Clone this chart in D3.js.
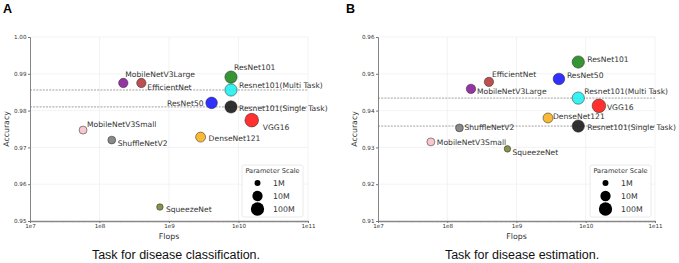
<!DOCTYPE html>
<html lang="en">
<head>
  <meta charset="UTF-8">
  <title>Flops vs Accuracy</title>
  <style>
    body { margin: 0; background: #fff; }
    svg { display: block; }
  </style>
  <script src="https://d3js.org/d3.v7.min.js"></script>
</head>
<body>
  <div id="chart"></div>
  <script>
    // data
    const models = ["MobileNetV3Large", "EfficientNet", "ResNet101", "Resnet101(Multi Task)", "ResNet50",
      "Resnet101(Single Task)", "VGG16", "MobileNetV3Small", "ShuffleNetV2", "DenseNet121", "SqueezeNet"];
    const flops = [2.2e8, 4.0e8, 7.8e9, 7.8e9, 4.1e9, 7.8e9, 1.55e10, 5.8e7, 1.5e8, 2.85e9, 7.4e8];
    const params = [5.5e6, 5.3e6, 44.5e6, 44.5e6, 25.6e6, 44.5e6, 138.4e6, 2.5e6, 2.3e6, 8.0e6, 1.25e6];
    const accClassification = [0.9875, 0.9875, 0.9891, 0.9856, 0.9821, 0.9810, 0.9774, 0.9747, 0.9720, 0.9728, 0.9538];
    const accEstimation = [0.9459, 0.9478, 0.9532, 0.9434, 0.9486, 0.9358, 0.9413, 0.9315, 0.9353, 0.9380, 0.9296];
    const xTicks = [1e7, 1e8, 1e9, 1e10, 1e11];
    const xTickLabels = ["1e7", "1e8", "1e9", "1e10", "1e11"];
    const legendValues = [1e6, 1e7, 1e8];
    const legendLabels = ["1M", "10M", "100M"];

    const colors = {
      "MobileNetV3Large": "#8b1e99",
      "EfficientNet": "#b53d3d",
      "ResNet101": "#1f8a1f",
      "Resnet101(Multi Task)": "#22f0f0",
      "ResNet50": "#1a1aff",
      "Resnet101(Single Task)": "#1a1a1a",
      "VGG16": "#ff1a1a",
      "MobileNetV3Small": "#f8c0cc",
      "ShuffleNetV2": "#7d7d7d",
      "DenseNet121": "#f8b020",
      "SqueezeNet": "#78873a"
    };

    // label placement [dx, dy, anchor]
    const offsetsA = {
      "MobileNetV3Large": [2, -9, "start"], "EfficientNet": [6, 4, "start"], "ResNet101": [3, -10, "start"],
      "Resnet101(Multi Task)": [8, -4, "start"], "ResNet50": [-8, 1, "end"], "Resnet101(Single Task)": [8, 2, "start"],
      "VGG16": [11, 7, "start"], "MobileNetV3Small": [4, -6, "start"], "ShuffleNetV2": [6, 3, "start"],
      "DenseNet121": [8, 1, "start"], "SqueezeNet": [6, 2, "start"]
    };
    const offsetsB = {
      "MobileNetV3Large": [6, 3, "start"], "EfficientNet": [3, -7, "start"], "ResNet101": [9, -3, "start"],
      "Resnet101(Multi Task)": [6, -7, "start"], "ResNet50": [8, -3, "start"], "Resnet101(Single Task)": [9, 1, "start"],
      "VGG16": [8, 2, "start"], "MobileNetV3Small": [6, 1, "start"], "ShuffleNetV2": [5, 0, "start"],
      "DenseNet121": [5, -1, "start"], "SqueezeNet": [5, 4, "start"]
    };

    const W = 679, H = 263;
    const svg = d3.select("#chart").append("svg")
      .attr("width", W).attr("height", H)
      .style("font-family", "DejaVu Sans, sans-serif");
    svg.append("rect").attr("width", W).attr("height", H).attr("fill", "#fff");

    // marker area grows with log10(params)
    const area = d3.scaleLog().domain([1e6, 1e8]).range([28, 138]);
    const radius = p => Math.sqrt(area(p) / Math.PI);

    function panel(opt) {
      const x = d3.scaleLog().domain([1e7, 1e11]).range([opt.left, opt.right]);
      const y = d3.scaleLinear().domain(opt.yDomain).range([opt.bottom, opt.top]);
      const yTicks = d3.range(0, 6).map(i => opt.yDomain[0] + i * 0.01);
      const g = svg.append("g");

      // grid
      g.selectAll(".gx").data(xTicks.slice(1)).join("line")
        .attr("x1", d => x(d)).attr("x2", d => x(d))
        .attr("y1", opt.top).attr("y2", opt.bottom)
        .attr("stroke", "#f0f0f0").attr("stroke-width", 0.8);
      g.selectAll(".gy").data(yTicks.slice(1)).join("line")
        .attr("x1", opt.left).attr("x2", opt.right)
        .attr("y1", d => y(d)).attr("y2", d => y(d))
        .attr("stroke", "#f0f0f0").attr("stroke-width", 0.8);

      // axes
      const ya = g.append("g").attr("transform", `translate(${opt.left},0)`)
        .call(d3.axisLeft(y).tickValues(yTicks).tickFormat(d3.format(".2f")).tickSize(2).tickPadding(1.5));
      ya.select(".domain").attr("stroke", "#777").attr("stroke-width", 0.9);
      ya.selectAll(".tick line").attr("stroke", "#777");
      ya.selectAll("text").attr("font-size", 5.6).attr("fill", "#333").attr("font-family", "DejaVu Sans");

      const minor = [];
      for (let e = 7; e < 11; e++) for (let m = 2; m < 10; m++) minor.push(m * Math.pow(10, e));
      g.append("g").attr("transform", `translate(0,${opt.bottom})`)
        .call(d3.axisBottom(x).tickValues(minor).tickFormat("").tickSize(1.2))
        .call(a => a.select(".domain").remove())
        .selectAll("line").attr("stroke", "#999");
      const xa = g.append("g").attr("transform", `translate(0,${opt.bottom})`)
        .call(d3.axisBottom(x).tickValues(xTicks).tickFormat((d, i) => xTickLabels[i]).tickSize(2).tickPadding(1.5).tickSizeOuter(0));
      xa.select(".domain").attr("stroke", "#888").attr("stroke-width", 1.3);
      xa.selectAll(".tick line").attr("stroke", "#777");
      xa.selectAll("text").attr("font-size", 5.6).attr("fill", "#333").attr("font-family", "DejaVu Sans");

      g.append("text").attr("x", (opt.left + opt.right) / 2).attr("y", opt.bottom + 18)
        .attr("text-anchor", "middle").attr("font-size", 7.8).attr("fill", "#333").text("Flops");
      g.append("text").attr("transform", `translate(${opt.left - 21},${(opt.top + opt.bottom) / 2}) rotate(-90)`)
        .attr("text-anchor", "middle").attr("font-size", 7.8).attr("fill", "#333").text("Accuracy");

      // reference lines for multi / single task
      [opt.acc[3], opt.acc[5]].forEach(v => {
        g.append("line").attr("x1", opt.left).attr("x2", opt.right)
          .attr("y1", y(v)).attr("y2", y(v))
          .attr("stroke", "#777").attr("stroke-width", 0.7).attr("stroke-dasharray", "2,1.2");
      });

      const pts = models.map((m, i) => ({ m, f: flops[i], p: params[i], a: opt.acc[i] }));
      g.selectAll(".pt").data(pts).join("circle")
        .attr("cx", d => x(d.f)).attr("cy", d => y(d.a)).attr("r", d => radius(d.p))
        .attr("fill", d => colors[d.m]).attr("fill-opacity", 0.9)
        .attr("stroke", "#222").attr("stroke-width", 0.5);
      g.selectAll(".lb").data(pts).join("text")
        .attr("x", d => x(d.f) + opt.offsets[d.m][0])
        .attr("y", d => y(d.a) + opt.offsets[d.m][1])
        .attr("text-anchor", d => opt.offsets[d.m][2])
        .attr("dominant-baseline", "central")
        .attr("font-size", 7.6).attr("fill", "#333").text(d => d.m);

      // legend
      const lg = g.append("g");
      lg.append("rect").attr("x", opt.lx).attr("y", 165).attr("width", 61).attr("height", 52).attr("rx", 2)
        .attr("fill", "#fff").attr("stroke", "#e4e4e4").attr("stroke-width", 0.8);
      lg.append("text").attr("x", opt.lx + 30.5).attr("y", 171).attr("text-anchor", "middle")
        .attr("dominant-baseline", "central").attr("font-size", 6.6).attr("fill", "#333").text("Parameter Scale");
      legendValues.forEach((v, i) => {
        const ly = 183 + i * 13;
        lg.append("circle").attr("cx", opt.lx + 15.5).attr("cy", ly).attr("r", radius(v)).attr("fill", "#000");
        lg.append("text").attr("x", opt.lx + 31).attr("y", ly).attr("dominant-baseline", "central")
          .attr("font-size", 7.8).attr("fill", "#333").text(legendLabels[i]);
      });

      svg.append("text").attr("x", opt.letterX).attr("y", 12.5).attr("font-size", 12.5).attr("font-weight", "bold")
        .attr("font-family", "Liberation Sans, Arial, sans-serif").text(opt.letter);
      svg.append("text").attr("x", opt.capX).attr("y", 259).attr("text-anchor", "middle")
        .attr("font-size", 12.5).attr("font-family", "Liberation Sans, Arial, sans-serif").attr("fill", "#111")
        .text(opt.caption);
    }

    panel({ left: 30, right: 308, top: 37, bottom: 221, yDomain: [0.95, 1.00], acc: accClassification,
      offsets: offsetsA, lx: 242, letter: "A", letterX: 3, capX: 176, caption: "Task for disease classification." });
    panel({ left: 378, right: 655, top: 37, bottom: 221, yDomain: [0.91, 0.96], acc: accEstimation,
      offsets: offsetsB, lx: 590, letter: "B", letterX: 346, capX: 522, caption: "Task for disease estimation." });
  </script>
</body>
</html>
